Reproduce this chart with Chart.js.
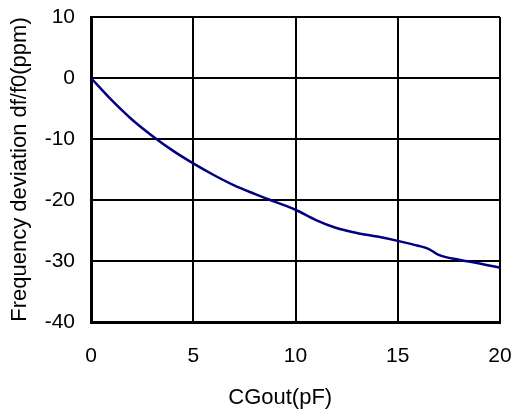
<!DOCTYPE html>
<html>
<head>
<meta charset="utf-8">
<script src="https://cdn.jsdelivr.net/npm/chart.js@4"></script>
<style>
html,body{margin:0;padding:0;background:#fff;}
#wrap{width:512px;height:411px;position:relative;}
</style>
</head>
<body>
<div id="wrap"><canvas id="c" width="512" height="411"></canvas></div>
<script>
const capValues = [0, 1, 2, 3, 4, 5, 6, 7, 8, 9, 10, 11, 12, 13, 14, 15, 16, 16.5, 17, 18, 19, 20];
const deviation = [0, -3.6, -6.8, -9.5, -11.9, -14.0, -15.9, -17.6, -19.0, -20.3, -21.6, -23.3, -24.6, -25.4, -26.0, -26.7, -27.5, -28.0, -29.0, -29.8, -30.4, -31.1];
const xTicks = [0, 5, 10, 15, 20];
const yTicks = [-40, -30, -20, -10, 0, 10];
const xTitle = 'CGout(pF)';
const yTitle = 'Frequency deviation df/f0(ppm)';

const FONT = 'Liberation Sans, Arial, sans-serif';
const points = capValues.map((x, i) => ({x: x, y: deviation[i]}));

new Chart(document.getElementById('c'), {
  type: 'line',
  data: {
    datasets: [{
      data: points,
      borderColor: '#000080',
      borderWidth: 2.5,
      pointRadius: 0,
      tension: 0.4,
      cubicInterpolationMode: 'monotone',
      fill: false
    }]
  },
  options: {
    responsive: false,
    animation: false,
    devicePixelRatio: 1,
    layout: {padding: {left: 0, right: 12, top: 17, bottom: 0}},
    plugins: {legend: {display: false}, tooltip: {enabled: false}},
    scales: {
      x: {
        type: 'linear',
        min: 0, max: 20,
        afterBuildTicks: s => { s.ticks = xTicks.map(v => ({value: v})); },
        afterFit: s => { s.height = 89; s.paddingLeft = 0; s.paddingRight = 0; },
        grid: {color: '#000', lineWidth: 2, drawTicks: false},
        border: {color: '#000', width: 3},
        ticks: {color: '#000', font: {family: FONT, size: 21}, padding: 22, maxRotation: 0},
        title: {display: true, text: xTitle + '\u00a0\u00a0\u00a0\u00a0\u00a0', color: '#000', font: {family: FONT, size: 22}, padding: {top: 8, bottom: 0}}
      },
      y: {
        type: 'linear',
        min: -40, max: 10,
        afterBuildTicks: s => { s.ticks = yTicks.map(v => ({value: v})); },
        afterFit: s => { s.width = 91; s.paddingTop = 0; s.paddingBottom = 0; },
        grid: {color: '#000', lineWidth: 2, drawTicks: false},
        border: {color: '#000', width: 3},
        ticks: {color: '#000', font: {family: FONT, size: 21}, padding: 16},
        title: {display: true, text: yTitle, color: '#000', font: {family: FONT, size: 22}, padding: {top: 7, bottom: 0}}
      }
    }
  }
});
</script>
</body>
</html>
